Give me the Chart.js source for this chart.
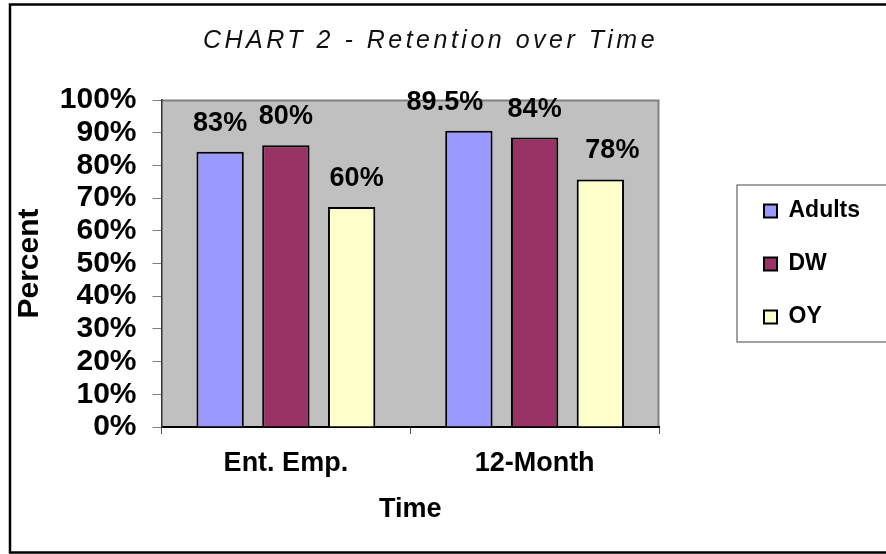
<!DOCTYPE html>
<html>
<head>
<meta charset="utf-8">
<script src="https://cdn.jsdelivr.net/npm/chart.js@4/dist/chart.umd.min.js"></script>
<style>
  html, body { margin: 0; padding: 0; background: #fff; }
  #wrap { width: 886px; height: 554px; }
</style>
</head>
<body>
<div id="wrap"><canvas id="chart" width="886" height="554"></canvas></div>
<script>
// chart data
const categories = ['Ent. Emp.', '12-Month'];
const seriesNames = ['Adults', 'DW', 'OY'];
const adultsValues = [84.2, 90.6];
const dwValues = [86.2, 88.5];
const oyValues = [67.3, 75.7];
// the printed labels above the bars (they differ from bar heights in the original)
const adultsLabels = ['83%', '89.5%'];
const dwLabels = ['80%', '84%'];
const oyLabels = ['60%', '78%'];

const BOLD = { family: "'Liberation Sans', Arial, sans-serif", weight: 'bold' };

Chart.defaults.font.family = "'Liberation Sans', Arial, sans-serif";
Chart.defaults.color = '#000';

// grey plot area, its grey top/right edge and the outer black frame
const frame = {
  id: 'frame',
  beforeDraw(chart) {
    const { ctx, chartArea: a } = chart;
    ctx.save();
    ctx.fillStyle = '#fff';
    ctx.fillRect(0, 0, chart.width, chart.height);
    ctx.fillStyle = '#c0c0c0';
    ctx.fillRect(a.left, a.top, a.right - a.left, a.bottom - a.top);
    ctx.strokeStyle = '#808080';
    ctx.lineWidth = 2;
    ctx.beginPath();
    ctx.moveTo(a.left, a.top + 0.5);
    ctx.lineTo(a.right - 0.5, a.top + 0.5);
    ctx.lineTo(a.right - 0.5, a.bottom);
    ctx.stroke();
    ctx.strokeStyle = '#000';
    ctx.lineWidth = 2.5;
    ctx.strokeRect(10, 4.5, 900, 548);
    ctx.restore();
  },
  afterDraw(chart) {
    // box round the legend, open past the right edge like the original
    const lg = chart.legend;
    const { ctx } = chart;
    const mid = (lg.top + lg.bottom) / 2;
    ctx.save();
    ctx.strokeStyle = '#707070';
    ctx.lineWidth = 1.3;
    ctx.strokeRect(737, mid - 79, 300, 157);
    ctx.restore();
  },
};

// place title and legend where the original has them
const placement = {
  id: 'placement',
  afterLayout(chart) {
    const tb = chart.titleBlock;
    tb.left = 0;
    tb.right = 861;
    if (!tb._spaced) {
      const draw = tb.draw;
      tb.draw = function (...args) {
        this.ctx.save();
        this.ctx.letterSpacing = '3.5px';
        draw.apply(this, args);
        this.ctx.restore();
      };
      tb._spaced = true;
    }
    const lg = chart.legend;
    const h = lg.bottom - lg.top;
    lg.left = 734;
    lg.right = 900;
    lg.width = 166;
    lg.top = 264 - h / 2;
    lg.bottom = 264 + h / 2;
  },
};

const valueLabels = {
  id: 'valueLabels',
  afterDatasetsDraw(chart, args, opts) {
    const { ctx } = chart;
    ctx.save();
    ctx.font = 'bold 27px "Liberation Sans", Arial, sans-serif';
    ctx.fillStyle = '#000';
    ctx.textAlign = 'center';
    ctx.textBaseline = 'middle';
    chart.data.datasets.forEach((ds, i) => {
      chart.getDatasetMeta(i).data.forEach((bar, j) => {
        const dx = opts.nudgeX[i][j];
        ctx.fillText(opts.texts[i][j], bar.x + dx, bar.y - opts.gap);
      });
    });
    ctx.restore();
  },
};

const barStyle = { borderColor: '#000', borderWidth: 2, categoryPercentage: 0.793, barPercentage: 0.72 };

new Chart(document.getElementById('chart'), {
  type: 'bar',
  data: {
    labels: categories,
    datasets: [
      { label: seriesNames[0], data: adultsValues, backgroundColor: '#9999ff', ...barStyle },
      { label: seriesNames[1], data: dwValues, backgroundColor: '#993366', ...barStyle },
      { label: seriesNames[2], data: oyValues, backgroundColor: '#ffffcc', ...barStyle },
    ],
  },
  options: {
    responsive: false,
    devicePixelRatio: 1,
    animation: false,
    layout: { padding: { left: 12, right: 107, top: 0, bottom: 0 } },
    plugins: {
      tooltip: { enabled: false },
      title: {
        display: true,
        text: 'CHART 2 - Retention over Time',
        color: '#111',
        font: { family: "'Liberation Sans', Arial, sans-serif", style: 'italic', weight: 'normal', size: 25 },
        padding: { top: 26.5, bottom: 43.5 },
      },
      legend: {
        position: 'right',
        maxWidth: 120,
        labels: {
          boxWidth: 13,
          boxHeight: 13,
          padding: 30,
          color: '#000',
          font: { ...BOLD, size: 23 },
        },
      },
      valueLabels: {
        texts: [adultsLabels, dwLabels, oyLabels],
        nudgeX: [[0, -24], [0, 0], [5, 12]],
        gap: 28.5,
      },
    },
    scales: {
      x: {
        afterFit(scale) { scale.height = 127; },
        grid: { offset: true, drawOnChartArea: false, tickLength: 7, color: '#555' },
        border: { color: '#000', width: 2 },
        ticks: { padding: 13, font: { ...BOLD, size: 27 }, color: '#000' },
        title: { display: true, text: 'Time', font: { ...BOLD, size: 27 }, padding: { top: 0, bottom: 28 } },
      },
      y: {
        min: 0,
        max: 100,
        afterFit(scale) { scale.width = 149.5; },
        grid: { drawOnChartArea: false, tickLength: 9, color: '#808080' },
        border: { color: '#333', width: 1.5 },
        ticks: {
          stepSize: 10,
          autoSkip: false,
          padding: 16,
          font: { ...BOLD, size: 30 },
          color: '#000',
          callback: (v) => v + '%',
        },
        title: { display: true, text: 'Percent', font: { ...BOLD, size: 30 }, padding: { top: 0, bottom: 0 } },
      },
    },
  },
  plugins: [frame, placement, valueLabels],
});
</script>
</body>
</html>
